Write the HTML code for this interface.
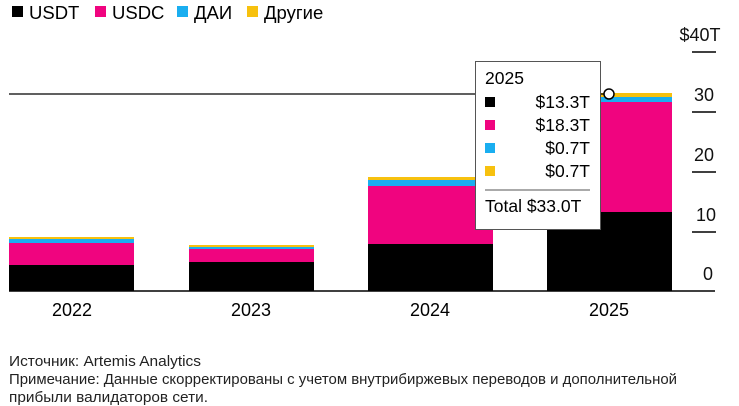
<!DOCTYPE html>
<html><head><meta charset="utf-8"><style>
body{margin:0;width:739px;height:406px;background:#fff;overflow:hidden;font-family:"Liberation Sans",sans-serif;}
svg{position:absolute;left:0;top:0}
</style></head><body>
<svg width="739" height="406" font-family="Liberation Sans, sans-serif">
<rect x="12" y="6" width="11" height="11" fill="#000"/><text x="29" y="19" font-size="18.5" fill="#000">USDT</text>
<rect x="95" y="6" width="11" height="11" fill="#f0047f"/><text x="112" y="19" font-size="18.5">USDC</text>
<rect x="177" y="6" width="11" height="11" fill="#1aaef0"/><text x="194" y="19" font-size="18.5">ДАИ</text>
<rect x="247" y="6" width="11" height="11" fill="#f7c10e"/><text x="264" y="19" font-size="18.5">Другие</text>
<g font-size="18" fill="#111" text-anchor="middle">
<text x="700" y="41">$40T</text><text x="704" y="101">30</text><text x="704" y="161">20</text><text x="706" y="221">10</text><text x="708" y="280">0</text>
</g>
<g stroke="#000" stroke-width="1.5">
<line x1="692" y1="52" x2="716" y2="52"/><line x1="692" y1="112" x2="716" y2="112"/><line x1="692" y1="172" x2="716" y2="172"/><line x1="692" y1="232" x2="716" y2="232"/>
</g>
<rect x="9" y="265" width="125" height="26" fill="#000"/><rect x="9" y="243" width="125" height="22" fill="#f0047f"/><rect x="9" y="239" width="125" height="4" fill="#1aaef0"/><rect x="9" y="237" width="125" height="2" fill="#f7c10e"/>
<rect x="189" y="262" width="125" height="29" fill="#000"/><rect x="189" y="249" width="125" height="13" fill="#f0047f"/><rect x="189" y="247" width="125" height="2" fill="#1aaef0"/><rect x="189" y="245" width="125" height="2" fill="#f7c10e"/>
<rect x="368" y="244" width="125" height="47" fill="#000"/><rect x="368" y="186" width="125" height="58" fill="#f0047f"/><rect x="368" y="180" width="125" height="6" fill="#1aaef0"/><rect x="368" y="177" width="125" height="3" fill="#f7c10e"/>
<rect x="547" y="212" width="125" height="79" fill="#000"/><rect x="547" y="102" width="125" height="110" fill="#f0047f"/><rect x="547" y="97" width="125" height="5" fill="#1aaef0"/><rect x="547" y="93" width="125" height="4" fill="#f7c10e"/>
<line x1="9" y1="94" x2="609" y2="94" stroke="#000" stroke-width="1.2"/>
<circle cx="609" cy="94" r="5" fill="#fff" stroke="#000" stroke-width="1.5"/>
<line x1="9" y1="291" x2="715" y2="291" stroke="#000" stroke-width="1.5"/>
<rect x="475.5" y="61.5" width="125" height="168" fill="#fff" stroke="#555" stroke-width="1"/>
<text x="485" y="84" font-size="17.5">2025</text>
<rect x="485" y="97" width="10" height="10" fill="#000"/><text x="590" y="108" font-size="17.5" text-anchor="end">$13.3T</text>
<rect x="485" y="120" width="10" height="10" fill="#f0047f"/><text x="590" y="131" font-size="17.5" text-anchor="end">$18.3T</text>
<rect x="485" y="143" width="10" height="10" fill="#1aaef0"/><text x="590" y="154" font-size="17.5" text-anchor="end">$0.7T</text>
<rect x="485" y="166" width="10" height="10" fill="#f7c10e"/><text x="590" y="177" font-size="17.5" text-anchor="end">$0.7T</text>
<line x1="485" y1="190" x2="590" y2="190" stroke="#555"/>
<text x="485" y="212" font-size="17.5">Total $33.0T</text>
<g font-size="18" text-anchor="middle"><text x="72" y="316">2022</text><text x="251" y="316">2023</text><text x="430" y="316">2024</text><text x="609" y="316">2025</text></g>
<g font-size="15" fill="#222">
<text x="9" y="366" textLength="192" lengthAdjust="spacingAndGlyphs">Источник: Artemis Analytics</text>
<text x="9" y="384" textLength="668" lengthAdjust="spacingAndGlyphs">Примечание: Данные скорректированы с учетом внутрибиржевых переводов и дополнительной</text>
<text x="9" y="402" textLength="199" lengthAdjust="spacingAndGlyphs">прибыли валидаторов сети.</text>
</g>
</svg>
</body></html>
